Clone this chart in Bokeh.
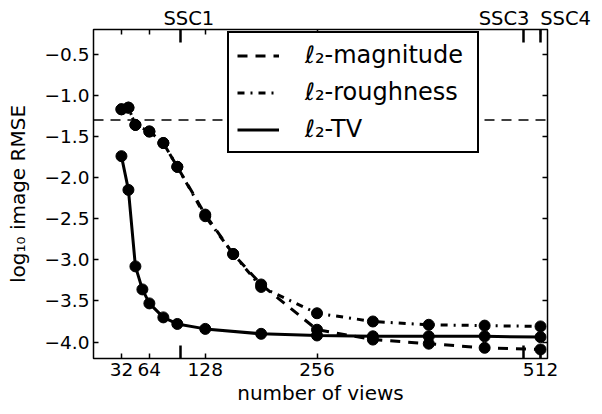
from bokeh.plotting import figure
from bokeh.models import (LinearAxis, FixedTicker, Span, Legend, LegendItem,
                          Range1d, ColumnDataSource)
from bokeh.core.properties import value
from bokeh.embed import file_html
from bokeh.resources import INLINE

# ---- data ----
views_mr = [32, 40, 48, 64, 80, 96, 128, 160, 192, 256, 320, 384, 448, 512]
rmse_magnitude = [-1.17, -1.15, -1.36, -1.44, -1.58, -1.87, -2.45, -2.93,
                  -3.30, -3.85, -3.97, -4.02, -4.07, -4.09]
rmse_roughness = [-1.17, -1.15, -1.36, -1.44, -1.58, -1.87, -2.47, -2.93,
                  -3.33, -3.65, -3.75, -3.79, -3.80, -3.81]
views_tv = [32, 40, 48, 56, 64, 80, 96, 128, 192, 256, 320, 384, 448, 512]
rmse_tv = [-1.74, -2.15, -3.08, -3.36, -3.53, -3.70, -3.78, -3.84,
           -3.90, -3.92, -3.93, -3.93, -3.93, -3.94]
x_ticks = [32, 64, 128, 256, 512]
y_ticks = [-4.0, -3.5, -3.0, -2.5, -2.0, -1.5, -1.0, -0.5]
ssc_views = [100, 492, 512]
ssc_labels = ["SSC1", "SSC3", "SSC4"]
threshold = -1.3
x_limits = (0, 520)
y_limits = (-4.2, -0.2)
series_labels = ["\u2113\u2082-magnitude", "\u2113\u2082-roughness", "\u2113\u2082-TV"]

# ---- styles ----
FONT = "DejaVu Sans"
# horizontal pixel offset of each SSC label's centre from its tick
ssc_label_dx = [8, -19, 25]

p = figure(width=598, height=412,
           x_range=Range1d(*x_limits), y_range=Range1d(*y_limits),
           output_backend="svg", toolbar_location=None,
           x_axis_location=None, y_axis_location=None,
           min_border_left=93, min_border_top=29,
           min_border_right=51, min_border_bottom=54)
p.grid.visible = False
p.outline_line_color = "black"
p.outline_line_width = 1.5
p.background_fill_color = "white"
p.border_fill_color = "white"


def style_axis(ax, show_labels=True):
    ax.axis_line_color = None
    ax.major_tick_out = 0
    ax.minor_tick_out = 0
    ax.major_tick_line_color = "black"
    ax.minor_tick_line_color = "black"
    ax.major_tick_line_width = 1.5
    ax.minor_tick_line_width = 1.5
    ax.major_label_text_font = FONT
    if show_labels:
        ax.major_label_text_color = "black"
        ax.major_label_text_font_size = "18.5px"
    else:
        ax.major_label_text_color = None
        ax.major_label_text_font_size = "1px"
        ax.major_label_standoff = 0
    ax.axis_label_text_font = FONT
    ax.axis_label_text_font_style = "normal"
    ax.axis_label_text_color = "black"
    ax.axis_label_text_font_size = "20px"


ylab = {v: f"{v:.1f}".replace("-", "\u2212") for v in y_ticks}

bottom = LinearAxis(ticker=FixedTicker(ticks=x_ticks, minor_ticks=ssc_views),
                    axis_label="number of views")
style_axis(bottom)
bottom.major_tick_in = 5
bottom.minor_tick_in = 13
bottom.minor_tick_line_width = 2.5
bottom.major_label_standoff = 4
bottom.axis_label_standoff = 2
p.add_layout(bottom, "below")

# top axis: SSC tick marks (long) and view tick marks (short), no labels
top = LinearAxis(ticker=FixedTicker(ticks=ssc_views, minor_ticks=x_ticks))
style_axis(top, show_labels=False)
top.major_tick_in = 13
top.minor_tick_in = 5
top.major_tick_line_width = 2.5
p.add_layout(top, "above")

left = LinearAxis(ticker=FixedTicker(ticks=y_ticks),
                  axis_label="log\u2081\u2080 image RMSE")
style_axis(left)
left.major_tick_in = 5
left.major_label_overrides = ylab
left.major_label_standoff = 4
left.axis_label_standoff = 12
p.add_layout(left, "left")

right = LinearAxis(ticker=FixedTicker(ticks=y_ticks))
style_axis(right, show_labels=False)
right.major_tick_in = 5
p.add_layout(right, "right")

span = Span(location=threshold, dimension="width", line_color="black",
            line_width=1.5, line_dash="10 7", level="underlay")
p.add_layout(span)

l_mag = p.line(views_mr, rmse_magnitude, line_color="black", line_width=3,
               line_dash="10 8")
p.scatter(views_mr, rmse_magnitude, size=11, color="black")
l_rough = p.line(views_mr, rmse_roughness, line_color="black", line_width=3,
                 line_dash="7 6 2 6")
p.scatter(views_mr, rmse_roughness, size=11, color="black")
l_tv = p.line(views_tv, rmse_tv, line_color="black", line_width=3)
p.scatter(views_tv, rmse_tv, size=11, color="black")

# SSC labels above the top spine (overlay level so they are not clipped)
ssc_src = ColumnDataSource(dict(x=ssc_views, y=[y_limits[1]] * len(ssc_views),
                                text=ssc_labels, dx=ssc_label_dx))
p.text(x="x", y="y", text="text", x_offset="dx", source=ssc_src,
       text_align="center", text_baseline="bottom",
       text_font=value(FONT), text_font_size="19.5px", text_color="black",
       level="overlay")

legend = Legend(items=[LegendItem(label=series_labels[0], renderers=[l_mag]),
                       LegendItem(label=series_labels[1], renderers=[l_rough]),
                       LegendItem(label=series_labels[2], renderers=[l_tv])],
                location=(134, 205))
legend.border_line_color = "black"
legend.border_line_alpha = 1.0
legend.border_line_width = 2
legend.background_fill_color = "white"
legend.background_fill_alpha = 1
legend.label_text_font = FONT
legend.label_text_font_size = "24px"
legend.label_text_color = "black"
legend.glyph_width = 42
legend.glyph_height = 27
legend.label_height = 27
legend.label_width = 164
legend.label_standoff = 26
legend.padding = 8
legend.spacing = 9
legend.margin = 0
p.add_layout(legend)

open("out.html", "w").write(file_html(p, INLINE))
